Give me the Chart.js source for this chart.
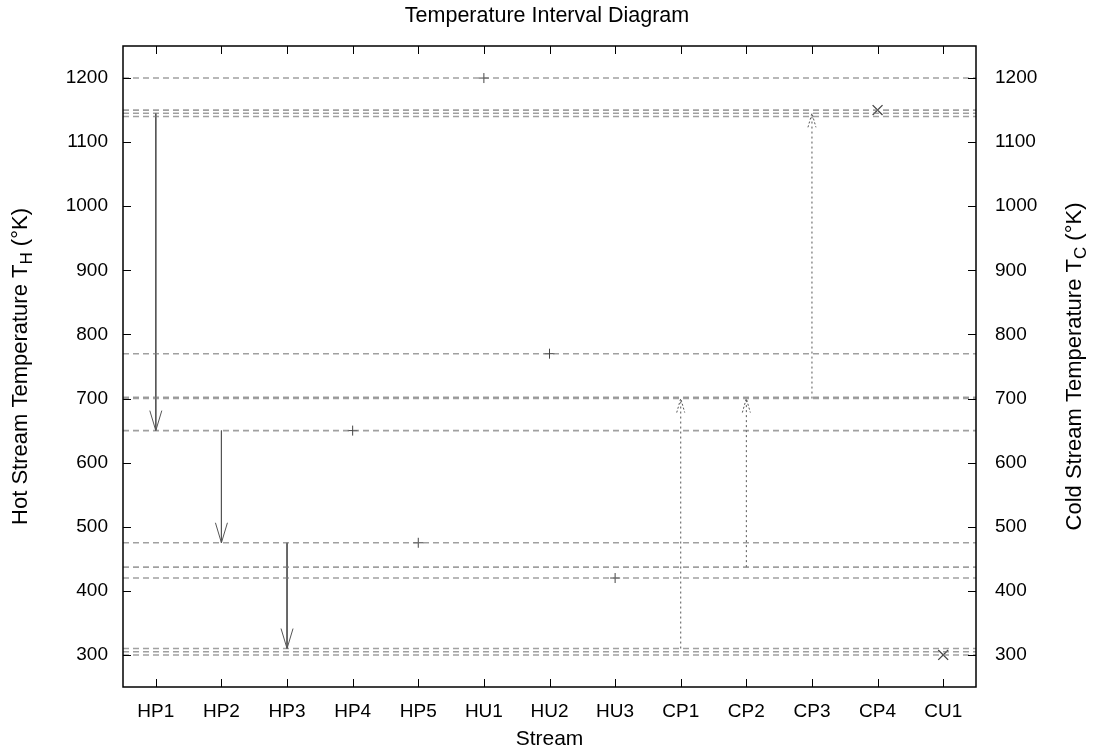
<!DOCTYPE html>
<html>
<head>
<meta charset="utf-8">
<script src="https://cdn.jsdelivr.net/npm/chart.js@4.4.1/dist/chart.umd.min.js"></script>
<style>
  html, body { margin: 0; padding: 0; background: #fff; }
  #wrap { width: 1094px; height: 756px; }
</style>
</head>
<body>
<div id="wrap"><canvas id="c" width="1094" height="756"></canvas></div>
<script>
// ---- data ----
const categories = ['HP1','HP2','HP3','HP4','HP5','HU1','HU2','HU3','CP1','CP2','CP3','CP4','CU1'];
const intervalTemps = [1200, 1150, 1145, 1140, 770, 702, 700, 650, 475, 437, 420, 310, 305, 300];
const hotStreams = ['HP1', 'HP2', 'HP3'];
const hotSupply  = [1145, 650, 475];
const hotTarget  = [650, 475, 310];
const coldStreams = ['CP1', 'CP2', 'CP3'];
const coldSupply  = [310, 437, 700];
const coldTarget  = [700, 700, 1145];
const plusStreams = ['HP4', 'HP5', 'HU1', 'HU2', 'HU3'];
const plusTemps   = [650, 475, 1200, 770, 420];
const crossStreams = ['CP4', 'CU1'];
const crossTemps   = [1150, 300];
const yTicks = [300, 400, 500, 600, 700, 800, 900, 1000, 1100, 1200];

const pos = name => categories.indexOf(name) + 1;
const FONT = '"Liberation Sans", Arial, sans-serif';
const FS = 19;      // tick labels
const FT = 21.5;    // chart title
const FA = 22;      // y axis titles

const datasets = [];
intervalTemps.forEach(t => datasets.push({
  label: 'interval ' + t, data: [{x: 0.5, y: t}, {x: 13.5, y: t}],
  borderColor: 'rgba(120,120,120,0.7)', borderWidth: 1.6, borderDash: [6, 4],
  pointRadius: 0, showLine: true, kind: 'interval'
}));
hotStreams.forEach((s, i) => datasets.push({
  label: s, data: [{x: pos(s), y: hotSupply[i]}, {x: pos(s), y: hotTarget[i]}],
  borderColor: '#555', borderWidth: 1, pointRadius: 0, showLine: true, kind: 'hot'
}));
coldStreams.forEach((s, i) => datasets.push({
  label: s, data: [{x: pos(s), y: coldSupply[i]}, {x: pos(s), y: coldTarget[i]}],
  borderColor: '#555', borderWidth: 1, borderDash: [2, 3], pointRadius: 0, showLine: true, kind: 'cold'
}));
datasets.push({
  label: 'point +', data: plusStreams.map((s, i) => ({x: pos(s), y: plusTemps[i]})),
  showLine: false, pointStyle: 'cross', pointRadius: 5, borderColor: '#444', borderWidth: 1,
  backgroundColor: '#444'
});
datasets.push({
  label: 'point x', data: crossStreams.map((s, i) => ({x: pos(s), y: crossTemps[i]})),
  showLine: false, pointStyle: 'crossRot', pointRadius: 7, borderColor: '#444', borderWidth: 1.3,
  backgroundColor: '#444'
});

const decor = {
  id: 'decor',
  afterDatasetsDraw(chart) {
    const {ctx, chartArea: a, scales: {x, y}} = chart;
    ctx.save();
    // arrowheads
    chart.data.datasets.forEach(ds => {
      if (ds.kind !== 'hot' && ds.kind !== 'cold') return;
      const p0 = ds.data[0], p1 = ds.data[1];
      const tx = x.getPixelForValue(p1.x), ty = y.getPixelForValue(p1.y);
      const dir = y.getPixelForValue(p0.y) > ty ? 1 : -1;
      ctx.beginPath();
      ctx.strokeStyle = '#555';
      if (ds.kind === 'hot') {
        ctx.setLineDash([]); ctx.lineWidth = 1;
        ctx.moveTo(tx - 6, ty + dir * 20); ctx.lineTo(tx, ty); ctx.lineTo(tx + 6, ty + dir * 20);
      } else {
        ctx.setLineDash([2, 2]); ctx.lineWidth = 1;
        ctx.moveTo(tx - 4, ty + dir * 14); ctx.lineTo(tx, ty); ctx.lineTo(tx + 4, ty + dir * 14);
      }
      ctx.stroke();
    });
    ctx.setLineDash([]);
    // frame
    ctx.strokeStyle = '#000'; ctx.lineWidth = 1.5;
    ctx.strokeRect(a.left, a.top, a.right - a.left, a.bottom - a.top);
    // inward tick marks (mirrored)
    ctx.lineWidth = 1;
    ctx.beginPath();
    categories.forEach((c, i) => {
      const px = Math.round(x.getPixelForValue(i + 1)) + 0.5;
      ctx.moveTo(px, a.bottom); ctx.lineTo(px, a.bottom - 8);
      ctx.moveTo(px, a.top); ctx.lineTo(px, a.top + 8);
    });
    yTicks.forEach(v => {
      const py = Math.round(y.getPixelForValue(v)) + 0.5;
      ctx.moveTo(a.left, py); ctx.lineTo(a.left + 8, py);
      ctx.moveTo(a.right, py); ctx.lineTo(a.right - 8, py);
    });
    ctx.stroke();
    // axis titles with subscripts
    const drawSubTitle = (cx, cy, rot, main, sub, tail) => {
      ctx.save();
      ctx.translate(cx, cy); ctx.rotate(rot);
      ctx.fillStyle = '#000';
      ctx.textBaseline = 'middle';
      const f1 = FA + 'px ' + FONT, f2 = Math.round(FA * 0.75) + 'px ' + FONT;
      ctx.font = f1; const w1 = ctx.measureText(main).width, w3 = ctx.measureText(tail).width;
      ctx.font = f2; const w2 = ctx.measureText(sub).width;
      let sx = -(w1 + w2 + w3) / 2;
      ctx.font = f1; ctx.textAlign = 'left'; ctx.fillText(main, sx, 0); sx += w1;
      ctx.font = f2; ctx.fillText(sub, sx, 6); sx += w2;
      ctx.font = f1; ctx.fillText(tail, sx, 0);
      ctx.restore();
    };
    const midY = (a.top + a.bottom) / 2;
    drawSubTitle(21, midY, -Math.PI / 2, 'Hot Stream Temperature T', 'H', ' (\u00B0K)');
    drawSubTitle(1075, midY, -Math.PI / 2, 'Cold Stream Temperature T', 'C', ' (\u00B0K)');
    ctx.restore();
  }
};

new Chart(document.getElementById('c'), {
  type: 'scatter',
  data: { datasets },
  plugins: [decor],
  options: {
    responsive: false, animation: false,
    layout: { padding: 0 },
    plugins: {
      legend: { display: false }, tooltip: { enabled: false },
      title: {
        display: true, text: 'Temperature Interval Diagram', color: '#000',
        font: { family: FONT, size: FT, weight: 'normal', lineHeight: 1.2 },
        padding: { top: 3, bottom: 17.2 }
      }
    },
    scales: {
      x: {
        type: 'linear', min: 0.5, max: 13.5,
        afterBuildTicks: s => { s.ticks = categories.map((c, i) => ({ value: i + 1 })); },
        afterFit: s => { s.height = 69; },
        grid: { display: false, drawTicks: false },
        border: { display: false },
        ticks: { color: '#000', font: { family: FONT, size: FS }, padding: 13, autoSkip: false,
                 maxRotation: 0, callback: v => categories[v - 1] ?? '' },
        title: { display: true, text: 'Stream', color: '#000', font: { family: FONT, size: 21 }, padding: { top: 3 } }
      },
      y: {
        type: 'linear', position: 'left', min: 250, max: 1250,
        afterBuildTicks: s => { s.ticks = yTicks.map(v => ({ value: v })); },
        afterFit: s => { s.width = 123; },
        grid: { display: false, drawTicks: false }, border: { display: false },
        ticks: { color: '#000', font: { family: FONT, size: FS }, padding: 15, callback: v => String(v) }
      },
      y2: {
        type: 'linear', position: 'right', min: 250, max: 1250,
        afterBuildTicks: s => { s.ticks = yTicks.map(v => ({ value: v })); },
        afterFit: s => { s.width = 118; },
        grid: { display: false, drawTicks: false }, border: { display: false },
        ticks: { color: '#000', font: { family: FONT, size: FS }, padding: 19, callback: v => String(v) }
      }
    }
  }
});
</script>
</body>
</html>
